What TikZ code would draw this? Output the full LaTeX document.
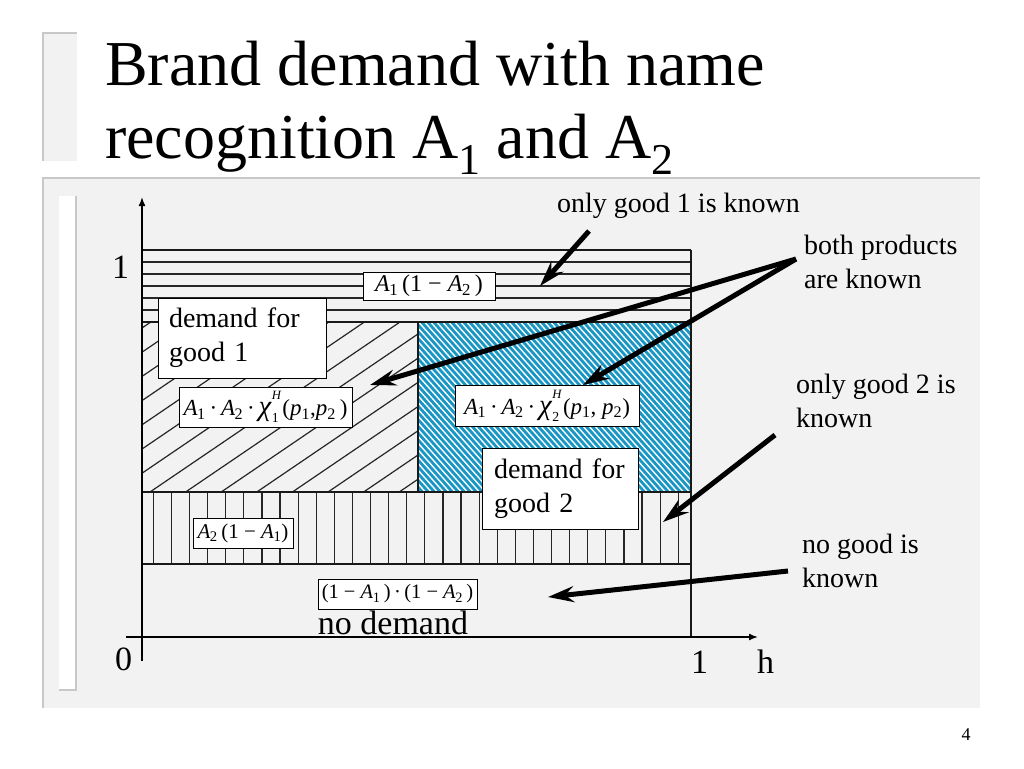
\documentclass[tikz,border=0pt]{standalone}
\usepackage{fontspec}
\setmainfont{Liberation Serif}
\usetikzlibrary{arrows.meta}
\definecolor{panel}{RGB}{242,242,242}
\definecolor{edgegray}{RGB}{200,200,200}
\definecolor{stripeblue}{RGB}{25,150,195}
\newcommand{\Asub}[1]{\textit{A}\kern-0.5pt\textsubscript{#1}}
\newcommand{\psub}[1]{\textit{p}\textsubscript{#1}}
\newcommand{\chiHs}[1]{\scalebox{1.25}{\textit{χ}}\makebox[0pt][l]{\raisebox{0.7em}{\scalebox{0.55}{\textit{H}}}}\raisebox{-0.3em}{\scalebox{0.6}{#1}}}
\newcommand{\titlesub}[1]{\raisebox{-0.25em}{\fontsize{44}{44}\selectfont #1}}
\tikzset{
  hatchline/.style={line width=1.2pt, draw=black!85},
  border/.style={line width=2.4pt, draw=black!90},
  thinborder/.style={line width=1.4pt, draw=black!90},
  lbl/.style={draw=black, fill=white, line width=0.9pt, inner sep=0pt},
  txtbox/.style={draw=black, fill=white, line width=0.9pt, inner ysep=0pt, align=left, font=\fontsize{28}{34}\selectfont},
  note/.style={anchor=base west, align=left, inner sep=0pt, font=\fontsize{28}{34}\selectfont},
  axislbl/.style={anchor=base west, inner sep=0pt, font=\fontsize{34}{40}\selectfont},
  bigarrow/.style={line width=5pt, -{Stealth[length=26pt,width=16pt,inset=9pt]}},
  axisarrow/.style={line width=1.5pt, -{Latex[length=9pt,width=7pt]}}
}
\begin{document}
\begin{tikzpicture}[x=1pt,y=-1pt]
\useasboundingbox (0,0) rectangle (1024,768);
\fill[white] (0,0) rectangle (1024,768);
% title bar
\fill[panel] (43,33) rectangle (77,161);
\draw[edgegray, line width=1.5pt] (43,161) -- (43,33) -- (77,33);
% panel
\fill[panel] (43,178) rectangle (980,708);
\draw[edgegray, line width=1.5pt] (43,708) -- (43,178) -- (980,178);
\fill[white] (59,196) rectangle (76,690);
\draw[edgegray, line width=1.2pt] (59,690) -- (76,690) -- (76,196);
% title
\node[anchor=base west, inner sep=0pt, align=left, font=\fontsize{64}{73}\selectfont] (title) at (105,158)
  {Brand demand with name\\recognition A\titlesub{1} and A\titlesub{2}};
% horizontal-line region
\foreach \yy in {262,274,286,298,310}
  \draw[hatchline] (142,\yy) -- (691,\yy);
\draw[thinborder] (142,250) -- (691,250);
% diagonal region
\begin{scope}
  \clip (142,322) rectangle (418,492);
  \foreach \k in {-10,...,12}
    \draw[hatchline] ({150+35.6*\k},492) -- ++(300,-204);
\end{scope}
% blue striped region
\begin{scope}
  \clip (418,322) rectangle (691,492);
  \fill[white] (418,322) rectangle (691,492);
  \foreach \xx in {250,256,...,700}
    \draw[stripeblue, line width=2.8pt] (\xx,318) -- ++(158,178);
\end{scope}
% vertical-line region
\foreach \k in {0,...,29}
  \draw[hatchline] ({153.3+18.1*\k},492) -- ++(0,72);
% borders
\draw[border] (142,322) -- (691,322);
\draw[border] (142,492) -- (691,492);
\draw[thinborder] (418,322) -- (418,492);
\draw[thinborder] (142,564) -- (691,564);
\draw[thinborder] (691,250) -- (691,637);
% axes
\coordinate (yb) at (142,661);
\coordinate (yt) at (142,197);
\coordinate (xl) at (126,637);
\coordinate (xr) at (758,637);
\draw[axisarrow] (yb) -- (yt);
\draw[axisarrow] (xl) -- (xr);
\node[axislbl] (y1) at (112,278) {1};
\node[axislbl] (zero) at (115,670) {0};
\node[axislbl] (x1) at (691,673) {1};
\node[axislbl] (h) at (757,673) {h};
% label boxes
\node[lbl, minimum width=132, minimum height=28, font=\fontsize{24}{26}\selectfont] (a1) at (429,286)
  {\Asub{1}\,(1 − \Asub{2}\,)};
\node[txtbox, inner xsep=11pt, text width=146pt, minimum height=80] (d1) at (242,338)
  {demand for\\good 1};
\node[lbl, minimum width=173, minimum height=40, font=\fontsize{23}{25}\selectfont] (chi1) at (265.5,407)
  {\Asub{1}\,·\,\Asub{2}\,·\,\chiHs{1}\,(\psub{1},\psub{2}\,)};
\node[lbl, minimum width=184, minimum height=41, font=\fontsize{23}{25}\selectfont] (chi2) at (547,405.5)
  {\Asub{1}\,·\,\Asub{2}\,·\,\chiHs{2}\,(\psub{1}, \psub{2})};
\node[txtbox, inner xsep=12pt, text width=132pt, minimum height=81] (d2) at (560,488.5)
  {demand for\\good 2};
\node[lbl, minimum width=100, minimum height=30, font=\fontsize{21}{23}\selectfont] (a2) at (243,533)
  {\Asub{2}\,(1 − \Asub{1})};
\node[lbl, minimum width=159, minimum height=30, font=\fontsize{20.5}{22}\selectfont] (none) at (397.5,594)
  {(1 − \Asub{1}\,)\,·\,(1 − \Asub{2}\,)};
\node[anchor=base, inner sep=0pt, font=\fontsize{34}{40}\selectfont] (nodem) at (393,634) {no demand};
% annotations
\node[note] (n1) at (557,212) {only good 1 is known};
\node[note] (nb) at (804,288) {both products\\are known};
\node[note] (n2) at (796,427) {only good 2 is\\known};
\node[note] (n0) at (802,587) {no good is\\known};
% arrows
\coordinate (o1s) at (589,231);
\coordinate (o1t) at (540,286);
\coordinate (bs) at (796,259);
\coordinate (bt1) at (370,385);
\coordinate (bt2) at (583,385);
\coordinate (o2s) at (775,435);
\coordinate (o2t) at (663,522);
\coordinate (ns) at (788,571);
\coordinate (nt) at (548,597);
\draw[bigarrow] (o1s) -- (o1t);
\draw[bigarrow] (bs) -- (bt1);
\draw[bigarrow] (bs) -- (bt2);
\draw[bigarrow] (o2s) -- (o2t);
\draw[bigarrow] (ns) -- (nt);
% page number
\node[anchor=base, inner sep=0pt, font=\fontsize{18}{20}\selectfont] (pg) at (966,740) {4};
\end{tikzpicture}
\end{document}
